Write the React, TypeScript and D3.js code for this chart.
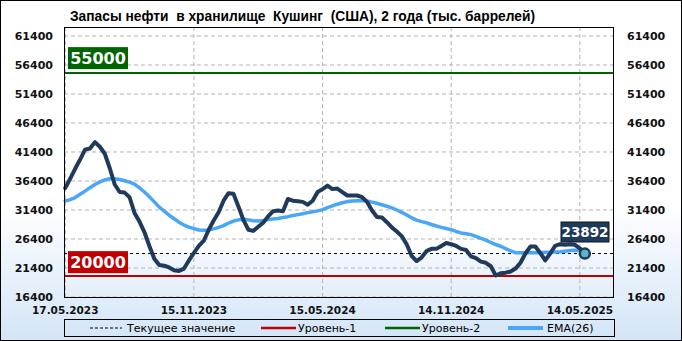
import React, { useEffect } from "react";
import * as d3 from "d3";

// Weekly stocks at Cushing, thousand barrels
const stock: number[] = [
  35200, 36800, 38500, 40100, 41800, 42000, 43100, 42300, 41100, 38600,
  35800, 34500, 34400, 33600, 30900, 29400, 27600, 25200, 23000, 21900,
  21800, 21500, 21000, 20900, 21300, 22700, 24000, 25200, 26100, 28000,
  29600, 31000, 33000, 34300, 34200, 32000, 29700, 28000, 27800, 28500,
  29200, 30300, 31200, 31300, 31200, 33300, 33000, 32900, 32800, 32300,
  33000, 34500, 35000, 35600, 35000, 35100, 34500, 33900, 33900, 33900,
  33600, 32800, 31300, 30200, 30100, 29300, 28400, 27700, 26900, 25500,
  23500, 22600, 23200, 24300, 24700, 24700, 25200, 25700, 25500, 25200,
  24700, 24500, 23400, 23100, 22500, 22300, 21700, 20100, 20500, 20600,
  20800, 21300, 22300, 23900, 25100, 25100, 24000, 22700, 23900, 25200,
  25500, 25400, 25500, 25400, 24800, 23892,
];

const ema26: number[] = [
  32950, 33200, 33550, 34100, 34650, 35250, 35800, 36250, 36600, 36800,
  36800, 36650, 36450, 36200, 35850, 35200, 34500, 33700, 32800, 31900,
  31200, 30500, 29900, 29300, 28800, 28450, 28200, 27950, 27900, 27950,
  28150, 28400, 28700, 29150, 29500, 29700, 29800, 29700, 29550, 29500,
  29600, 29750, 29850, 29950, 30100, 30250, 30450, 30600, 30750, 30950,
  31100, 31250, 31450, 31800, 32100, 32400, 32650, 32850, 32950, 33000,
  33000, 32950, 32750, 32550, 32300, 32050, 31750, 31400, 31000, 30550,
  30050, 29650, 29400, 29200, 28900, 28650, 28400, 28200, 28000, 27700,
  27450, 27300, 27150, 26850, 26500, 26200, 25800, 25450, 25150, 24750,
  24350, 24050, 24050, 24050, 24050, 24050, 24050, 24100, 24100, 24150,
  24200, 24300, 24400, 24450, 24400, 24350,
];

const tickIndex: number[] = [0, 26, 52, 78, 104];
const tickLabels: string[] = ["17.05.2023", "15.11.2023", "15.05.2024", "14.11.2024", "14.05.2025"];
const yTicks: number[] = [16400, 21400, 26400, 31400, 36400, 41400, 46400, 51400, 56400, 61400];
const level1 = 20000;
const level2 = 55000;
const currentValue = stock[stock.length - 1];

const title = "Запасы нефти  в хранилище  Кушинг  (США), 2 года (тыс. баррелей)";
const legendLabels = ["Текущее значение", "Уровень-1", "Уровень-2", "EMA(26)"];

const W = 682;
const H = 341;
const PL = 64, PR = 614, PT = 27, PB = 297;

const C_MAIN = "#203a5c";
const C_EMA = "#4aa6f6";
const C_RED = "#c00000";
const C_GREEN = "#006400";

export default function App() {
  useEffect(() => {
    document.body.style.margin = "0";
  }, []);

  const x = d3.scaleLinear().domain([-0.25, 110.9]).range([PL, PR]);
  const y = d3.scaleLinear().domain([16400, 62950]).range([PB, PT]);

  const line = d3
    .line<number>()
    .x((_, i) => x(i))
    .y((d) => y(d));

  const lastX = x(stock.length - 1);
  const lastY = y(currentValue);
  const curY = y(currentValue);

  const axisFont = "DejaVu Sans, Verdana, sans-serif";

  return (
    <svg width={W} height={H} style={{ display: "block" }} xmlns="http://www.w3.org/2000/svg">
      <defs>
        <linearGradient id="bg" x1="0" y1="0" x2="0" y2="1">
          <stop offset="0" stopColor="#ffffff" />
          <stop offset="0.6" stopColor="#ffffff" />
          <stop offset="1" stopColor="#d3e5f7" />
        </linearGradient>
        <linearGradient id="low" x1="0" y1="0" x2="0" y2="1">
          <stop offset="0" stopColor="#f3f8fd" />
          <stop offset="1" stopColor="#e3eef9" />
        </linearGradient>
      </defs>
      <rect x={0.5} y={0.5} width={W - 1} height={H - 1} fill="url(#bg)" stroke="#000" strokeWidth={1} />

      {/* plot background */}
      <rect x={PL} y={PT} width={PR - PL} height={PB - PT} fill="#ffffff" />
      <rect x={PL} y={curY} width={PR - PL} height={PB - curY} fill="url(#low)" />

      {/* grid */}
      {yTicks.map((t) => (
        <line key={"gy" + t} x1={PL} x2={PR} y1={y(t)} y2={y(t)} stroke="#b4b4b4" strokeDasharray="4,3" strokeWidth={1} />
      ))}
      {tickIndex.map((t) => (
        <line key={"gx" + t} x1={x(t)} x2={x(t)} y1={PT} y2={PB} stroke="#b4b4b4" strokeDasharray="4,3" strokeWidth={1} />
      ))}

      {/* current value dashed line */}
      <line x1={PL} x2={PR} y1={curY} y2={curY} stroke="#000" strokeDasharray="3,3" strokeWidth={1} />

      {/* levels */}
      <line x1={PL} x2={PR} y1={y(level1)} y2={y(level1)} stroke={C_RED} strokeWidth={2} />
      <line x1={PL} x2={PR} y1={y(level2)} y2={y(level2)} stroke={C_GREEN} strokeWidth={2} />

      {/* EMA */}
      <path d={line(ema26) || ""} fill="none" stroke={C_EMA} strokeWidth={3.5} strokeLinejoin="round" strokeLinecap="round" />
      {/* main */}
      <path d={line(stock) || ""} fill="none" stroke={C_MAIN} strokeWidth={4} strokeLinejoin="round" strokeLinecap="round" />
      <circle cx={lastX} cy={lastY} r={5} fill="#5fb4c9" stroke={C_MAIN} strokeWidth={2.5} />

      {/* level labels */}
      <rect x={68} y={y(level2) - 26} width={60} height={22} fill={C_GREEN} />
      <text x={98} y={y(level2) - 9} fill="#fff" fontFamily={axisFont} fontWeight="bold" fontSize={16} textAnchor="middle">
        {String(level2)}
      </text>
      <rect x={68} y={y(level1) - 25} width={60} height={22} fill={C_RED} />
      <text x={98} y={y(level1) - 8} fill="#fff" fontFamily={axisFont} fontWeight="bold" fontSize={16} textAnchor="middle">
        {String(level1)}
      </text>

      {/* current value label */}
      <rect x={561} y={222} width={48} height={20} fill={C_MAIN} stroke="#0a1a2e" strokeWidth={1} />
      <text x={585} y={237} fill="#fff" fontFamily={axisFont} fontWeight="bold" fontSize={13.5} textAnchor="middle">
        {String(currentValue)}
      </text>

      {/* plot border */}
      <rect x={PL + 0.5} y={PT + 0.5} width={PR - PL - 1} height={PB - PT} fill="none" stroke="#000" strokeWidth={1} />

      {/* y axis labels */}
      {yTicks.map((t) => (
        <text key={"yl" + t} x={53} y={y(t) + 4} textAnchor="end" fontFamily={axisFont} fontWeight="bold" fontSize={11} fill="#111">
          {String(t)}
        </text>
      ))}
      {yTicks.map((t) => (
        <text key={"yr" + t} x={627} y={y(t) + 4} textAnchor="start" fontFamily={axisFont} fontWeight="bold" fontSize={11} fill="#111">
          {String(t)}
        </text>
      ))}

      {/* x axis labels */}
      {tickIndex.map((t, i) => (
        <text key={"xl" + t} x={x(t)} y={314} textAnchor="middle" fontFamily={axisFont} fontWeight="bold" fontSize={10.5} fill="#111">
          {tickLabels[i]}
        </text>
      ))}

      {/* title */}
      <text x={70} y={21} style={{ whiteSpace: "pre" }} xmlSpace="preserve" fontFamily="Liberation Sans Narrow, Liberation Sans, Arial, sans-serif" fontWeight="bold" fontSize={14} fill="#000" textLength={465} lengthAdjust="spacingAndGlyphs">
        {title}
      </text>

      {/* legend */}
      <rect x={64.5} y={319.5} width={550} height={17} fill="none" stroke="#000" strokeWidth={1} />
      <line x1={90} x2={122} y1={328} y2={328} stroke="#000" strokeDasharray="3,2" strokeWidth={1} />
      <text x={127} y={332} fontFamily={axisFont} fontSize={11} fill="#000">{legendLabels[0]}</text>
      <line x1={261} x2={296} y1={328} y2={328} stroke={C_RED} strokeWidth={2.5} />
      <text x={298} y={332} fontFamily={axisFont} fontSize={11} fill="#000">{legendLabels[1]}</text>
      <line x1={385} x2={420} y1={328} y2={328} stroke={C_GREEN} strokeWidth={2.5} />
      <text x={422} y={332} fontFamily={axisFont} fontSize={11} fill="#000">{legendLabels[2]}</text>
      <line x1={508} x2={543} y1={328} y2={328} stroke={C_EMA} strokeWidth={4} />
      <text x={547} y={332} fontFamily={axisFont} fontSize={11} fill="#000">{legendLabels[3]}</text>
    </svg>
  );
}
